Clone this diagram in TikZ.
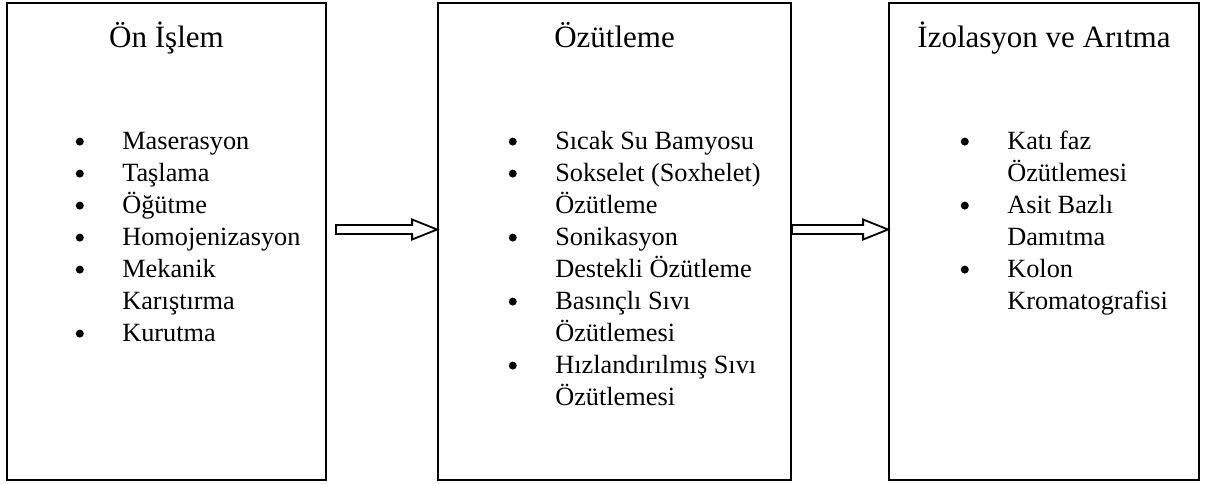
\documentclass[tikz,border=0pt]{standalone}
\usepackage{fontspec}
\setmainfont{Liberation Serif}
\usetikzlibrary{calc}
\newcommand\blockarrow[2]{\draw[blockarrow] let \p1=(#1), \p2=(#2) in
  (\x1,\y1+4.5pt) -- (\x2-25pt,\y1+4.5pt) -- (\x2-25pt,\y1+10pt) -- (\x2,\y1)
  -- (\x2-25pt,\y1-10pt) -- (\x2-25pt,\y1-4.5pt) -- (\x1,\y1-4.5pt) -- cycle;}
\newcommand\bul{\tikz[baseline=0pt,x=1pt,y=1pt]{\path (0,0) (9,0);\fill (4.5,7.5) circle[radius=4];}}
\begin{document}
\begin{tikzpicture}[x=1pt,y=-1pt,
  box/.style={draw, line width=1.8pt, rectangle, inner sep=0pt},
  title/.style={font=\fontsize{31}{36}\selectfont, anchor=base, inner sep=0pt},
  items/.style={font=\fontsize{26.3}{32}\selectfont, anchor=base west, inner sep=0pt, align=left},
  blockarrow/.style={draw, line width=1.8pt, fill=white, line join=miter}]
\useasboundingbox (0,0) rectangle (1205,484);
\node[box, minimum width=319pt, minimum height=477pt] (b1) at (166.5,241.5) {};
\node[box, minimum width=353pt, minimum height=477pt] (b2) at (614.5,241.5) {};
\node[box, minimum width=310pt, minimum height=477pt] (b3) at (1044,241.5) {};
\node[title] (t1) at ($(b1.north)+(0,45)$) {Ön İşlem};
\node[title] (t2) at ($(b2.north)+(0,45)$) {Özütleme};
\node[title] (t3) at ($(b3.north)+(0,45)$) {İzolasyon ve Arıtma};
\node[items] (l1) at ($(b1.north west)+(69,147)$) {\begin{tabular}[t]{@{}l@{\hspace{38pt}}l@{}}
\bul & Maserasyon\\
\bul & Taşlama\\
\bul & Öğütme\\
\bul & Homojenizasyon\\
\bul & Mekanik\\
 & Karıştırma\\
\bul & Kurutma
\end{tabular}};
\node[items] (l2) at ($(b2.north west)+(71,147)$) {\begin{tabular}[t]{@{}l@{\hspace{38pt}}l@{}}
\bul & Sıcak Su Bamyosu\\
\bul & Sokselet (Soxhelet)\\
 & Özütleme\\
\bul & Sonikasyon\\
 & Destekli Özütleme\\
\bul & Basınçlı Sıvı\\
 & Özütlemesi\\
\bul & Hızlandırılmış Sıvı\\
 & Özütlemesi
\end{tabular}};
\node[items] (l3) at ($(b3.north west)+(72,147)$) {\begin{tabular}[t]{@{}l@{\hspace{38pt}}l@{}}
\bul & Katı faz\\
 & Özütlemesi\\
\bul & Asit Bazlı\\
 & Damıtma\\
\bul & Kolon\\
 & Kromatografisi
\end{tabular}};
\coordinate (a1) at ($(b1.east)+(9,-12)$);
\coordinate (a2) at ($(b2.east)+(0,-12)$);
\blockarrow{a1}{b2.west |- a1}
\blockarrow{a2}{b3.west |- a2}
\end{tikzpicture}
\end{document}
